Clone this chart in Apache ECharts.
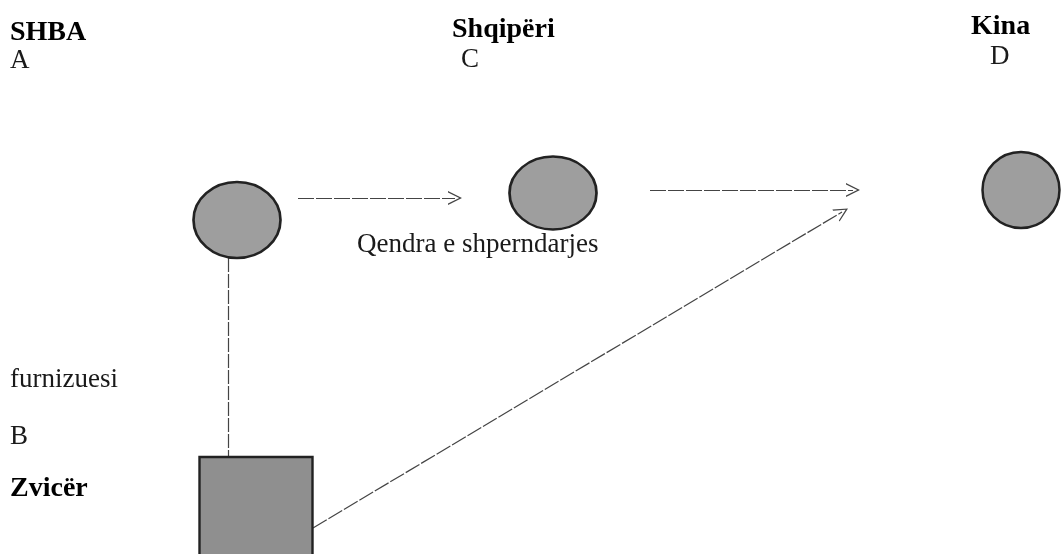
<!DOCTYPE html>
<html>
<head>
<meta charset="utf-8">
<title>Shqipëri</title>
<script src="https://cdn.jsdelivr.net/npm/echarts@6/dist/echarts.min.js"></script>
<style>
  html, body { margin: 0; padding: 0; background: #fff; }
  #diagram { width: 1061px; height: 554px; }
</style>
</head>
<body>
<div id="diagram"></div>
<script>
// nyjet (rrathet) A, C, D
var circleNames = ['A', 'C', 'D'];
var circleX = [237, 553, 1021];
var circleY = [220, 193, 190];

// furnizuesi B (katror)
var boxNames = ['B'];
var boxX = [256];
var boxY = [518];

// shigjetat
var arrowFrom = [[298, 198], [650, 190], [313, 528]];
var arrowTo = [[455, 198], [853, 190], [842, 212]];

// lidhja A - B pa shigjete
var linkFrom = [[228, 258]];
var linkTo = [[228, 457]];

// tekstet
var labelText = ['SHBA', 'A', 'Shqipëri', 'C', 'Kina', 'D', 'Qendra e shperndarjes', 'furnizuesi', 'B', 'Zvicër'];
var labelX = [10, 10, 452, 461, 971, 990, 357, 10, 10, 10];
var labelY = [33, 61, 30, 60, 27, 57, 245, 380, 437, 489];
var labelBold = [1, 0, 1, 0, 1, 0, 0, 0, 0, 1];

(function(window, undefined) {
  var W = 1061, H = 554;
  var FONT = '"Liberation Serif", "DejaVu Serif", serif';
  var circleSizes = [[87, 76], [87, 73], [77, 76]];
  // V e hapur, me maje lart
  var chevron = 'path://M0,12 L6,0 L12,12 L10.8,12 L6,2.4 L1.2,12 Z';

  fnInitDiagram();

  function fnInitDiagram() {
    var chart = echarts.init(document.getElementById('diagram'), null, { renderer: 'canvas' });

    var circles = circleNames.map(function(name, i) {
      return { name: name, value: [circleX[i], circleY[i]], symbolSize: circleSizes[i] };
    });
    var boxes = boxNames.map(function(name, i) {
      return { name: name, value: [boxX[i], boxY[i]] };
    });
    var arrows = arrowFrom.map(function(p, i) {
      return { coords: [p, arrowTo[i]] };
    });
    var links = linkFrom.map(function(p, i) {
      return { coords: [p, linkTo[i]] };
    });
    var labels = labelText.map(function(t, i) {
      var bold = labelBold[i];
      return {
        name: t,
        value: [labelX[i], labelY[i]],
        label: {
          fontWeight: bold ? 'bold' : 'normal',
          fontSize: bold ? 28 : 27,
          color: bold ? '#000' : '#1a1a1a'
        }
      };
    });

    chart.setOption({
      animation: false,
      backgroundColor: '#fff',
      grid: { left: 0, right: 0, top: 0, bottom: 0 },
      xAxis: { type: 'value', min: 0, max: W, show: false },
      yAxis: { type: 'value', min: 0, max: H, inverse: true, show: false },
      series: [
        {
          type: 'lines',
          coordinateSystem: 'cartesian2d',
          symbol: ['none', 'none'],
          lineStyle: { color: '#444', width: 1.2, type: [14, 2], opacity: 1 },
          data: links,
          z: 1
        },
        {
          type: 'lines',
          coordinateSystem: 'cartesian2d',
          symbol: ['none', chevron],
          symbolSize: [16, 14],
          lineStyle: { color: '#444', width: 1.2, type: [16, 2], opacity: 1 },
          data: arrows,
          z: 1
        },
        {
          type: 'scatter',
          symbol: 'circle',
          itemStyle: { color: '#9e9e9e', borderColor: '#222', borderWidth: 2.5, opacity: 1 },
          data: circles,
          z: 3
        },
        {
          type: 'scatter',
          symbol: 'rect',
          symbolSize: [113, 122],
          itemStyle: { color: '#8f8f8f', borderColor: '#222', borderWidth: 2.5, opacity: 1 },
          data: boxes,
          z: 3
        },
        {
          type: 'scatter',
          symbolSize: 0,
          silent: true,
          itemStyle: { opacity: 1 },
          label: {
            show: true,
            position: [0, 0],
            align: 'left',
            verticalAlign: 'middle',
            fontFamily: FONT,
            color: '#000',
            opacity: 1,
            formatter: function(p) { return p.name; }
          },
          data: labels,
          z: 4
        }
      ]
    });
  }
})(window);
</script>
</body>
</html>
